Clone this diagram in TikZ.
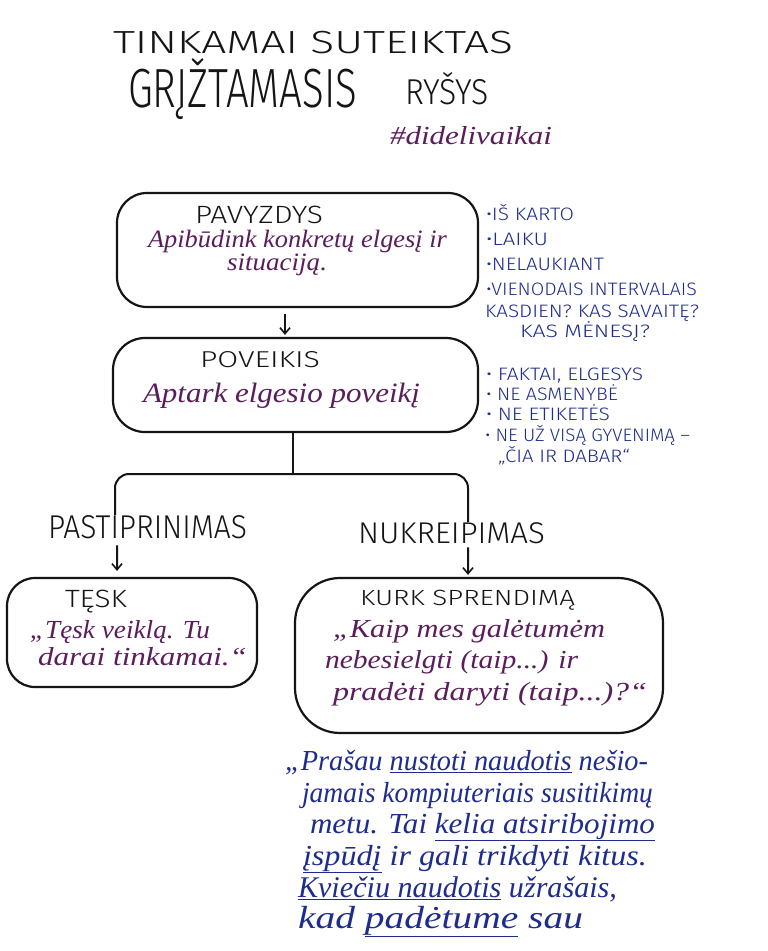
\documentclass[tikz,border=0pt]{standalone}
\usepackage{fontspec}
\usepackage{graphicx}
\usetikzlibrary{arrows.meta}
\newfontfamily\capsf{Fira Sans Light}
\newfontfamily\handf{Liberation Serif}
\definecolor{ink}{HTML}{151515}
\definecolor{plum}{HTML}{5A1E5C}
\definecolor{navy}{HTML}{1E2C8E}
\newcommand\fitx[2]{\resizebox{#1pt}{\height}{#2}}
\newcommand\fitxy[3]{\resizebox{#1pt}{#2\height}{#3}}
\newcommand\cf[1]{\capsf\fontsize{#1}{#1}\selectfont}
\newcommand\hf[1]{\handf\itshape\fontsize{#1}{#1}\selectfont}
\begin{document}
\begin{tikzpicture}[x=1pt,y=-1pt,
  txt/.style={anchor=base west, inner sep=0pt, outer sep=0pt},
  box/.style={draw=ink, line width=2.2pt, inner sep=0pt},
  link/.style={draw=ink, line width=2pt},
  arr/.style={link, -{Straight Barb[length=6pt,width=10pt,line width=1.6pt]}}]
\useasboundingbox[fill=white] (0,0) rectangle (768,951);

% title
\node[txt,text=ink] (t1) at (113,53) {\fitx{400}{\cf{32}TINKAMAI SUTEIKTAS}};
\node[txt,text=ink] (t2) at (128,107) {\fitxy{229}{1.2}{\cf{46}GRĮŽTAMASIS}};
\node[txt,text=ink] (t3) at (405,104) {\fitx{84}{\cf{36}RYŠYS}};
\node[txt,text=plum] (tag) at (390,144) {\fitx{162}{\hf{26}\#didelivaikai}};

% boxes
\node[box, minimum width=361pt, minimum height=114pt, rounded corners=30pt] (b1) at (297.5,250) {};
\node[box, minimum width=365pt, minimum height=94pt, rounded corners=32pt] (b2) at (295.5,385) {};
\node[box, minimum width=250pt, minimum height=109pt, rounded corners=28pt] (b3) at (132,632.5) {};
\node[box, minimum width=368pt, minimum height=155pt, rounded corners=45pt] (b4) at (479,655.5) {};

% box 1 text
\node[txt,text=ink] (p1) at (195,223) {\fitx{128}{\cf{25}PAVYZDYS}};
\node[txt,text=plum] (p2) at (148,247) {\fitx{299}{\hf{25}Apibūdink konkretų elgesį ir}};
\node[txt,text=plum] (p3) at (227,270) {\fitx{100}{\hf{25}situaciją.}};

% box 2 text
\node[txt,text=ink] (q1) at (200,367) {\fitx{120}{\cf{23}POVEIKIS}};
\node[txt,text=plum] (q2) at (143,402) {\fitx{277}{\hf{28}Aptark elgesio poveikį}};

% right list 1
\node[txt,text=navy] (r1) at (486,220) {\fitx{88}{\cf{18}•IŠ KARTO}};
\node[txt,text=navy] (r2) at (486,245) {\fitx{62}{\cf{18}•LAIKU}};
\node[txt,text=navy] (r3) at (486,270) {\fitx{118}{\cf{18}•NELAUKIANT}};
\node[txt,text=navy] (r4) at (486,295) {\fitx{211}{\cf{18}•VIENODAIS INTERVALAIS}};
\node[txt,text=navy] (r5) at (485,317) {\fitx{214}{\cf{18}KASDIEN? KAS SAVAITĘ?}};
\node[txt,text=navy] (r6) at (520,337) {\fitx{130}{\cf{18}KAS MĖNESĮ?}};

% right list 2
\node[txt,text=navy] (s1) at (486,380) {\fitx{157}{\cf{18}• FAKTAI, ELGESYS}};
\node[txt,text=navy] (s2) at (486,400) {\fitx{132}{\cf{18}• NE ASMENYBĖ}};
\node[txt,text=navy] (s3) at (486,420) {\fitx{124}{\cf{18}• NE ETIKETĖS}};
\node[txt,text=navy] (s4) at (485,441) {\fitx{205}{\cf{18}• NE UŽ VISĄ GYVENIMĄ –}};
\node[txt,text=navy] (s5) at (498,462) {\fitx{132}{\cf{18}„ČIA IR DABAR“}};

% branch labels
\node[txt,text=ink] (lp) at (48,538) {\fitx{199}{\cf{33}PASTIPRINIMAS}};
\node[txt,text=ink] (np) at (358,543) {\fitx{187}{\cf{30}NUKREIPIMAS}};

% TESK box text
\node[txt,text=ink] (u1) at (65,607) {\fitx{62}{\cf{25}TĘSK}};
\node[txt,text=plum] (u2) at (30,638) {\fitx{180}{\hf{26}„Tęsk veiklą. Tu}};
\node[txt,text=plum] (u3) at (38,665) {\fitx{209}{\hf{26}darai tinkamai.“}};

% KURK box text
\node[txt,text=ink] (v1) at (360,605) {\fitx{215}{\cf{22}KURK SPRENDIMĄ}};
\node[txt,text=plum] (v2) at (333,637) {\fitx{272}{\hf{26}„Kaip mes galėtumėm}};
\node[txt,text=plum] (v3) at (325,668) {\fitx{253}{\hf{26}nebesielgti (taip...) ir}};
\node[txt,text=plum] (v4) at (333,700) {\fitx{314}{\hf{26}pradėti daryti (taip...)?“}};

% bottom paragraph
\node[txt,text=navy] (w1) at (285,770) {\fitx{363}{\hf{29}„Prašau \underline{nustoti naudotis} nešio-}};
\node[txt,text=navy] (w2) at (302,802) {\fitx{351}{\hf{29}jamais kompiuteriais susitikimų}};
\node[txt,text=navy] (w3) at (310,833) {\fitx{345}{\hf{29}metu. Tai \underline{kelia atsiribojimo}}};
\node[txt,text=navy] (w4) at (303,865) {\fitx{344}{\hf{29}\underline{įspūdį} ir gali trikdyti kitus.}};
\node[txt,text=navy] (w5) at (298,897) {\fitx{319}{\hf{30}\underline{Kviečiu naudotis} užrašais,}};
\node[txt,text=navy] (w6) at (298,928) {\fitx{285}{\hf{32}kad \underline{padėtume} sau}};

% connectors
\draw[arr, shorten <=6pt, shorten >=2pt] ([xshift=-12.5pt]b1.south) -- ([xshift=-10.5pt]b2.north);
\coordinate (jn) at (293,474);
\draw[link] ([xshift=-2.5pt]b2.south) -- (jn);
\draw[link, rounded corners=14pt] ([xshift=-32.5pt]lp.north) |- (jn) -| ([xshift=16.5pt]np.north);
\draw[arr, shorten <=7pt, shorten >=6pt] ([xshift=-30.5pt]lp.south) -- ([xshift=-15pt]b3.north);
\draw[arr, shorten <=4pt, shorten >=2pt] ([xshift=16.5pt]np.south) -- ([xshift=-11pt]b4.north);
\end{tikzpicture}
\end{document}
